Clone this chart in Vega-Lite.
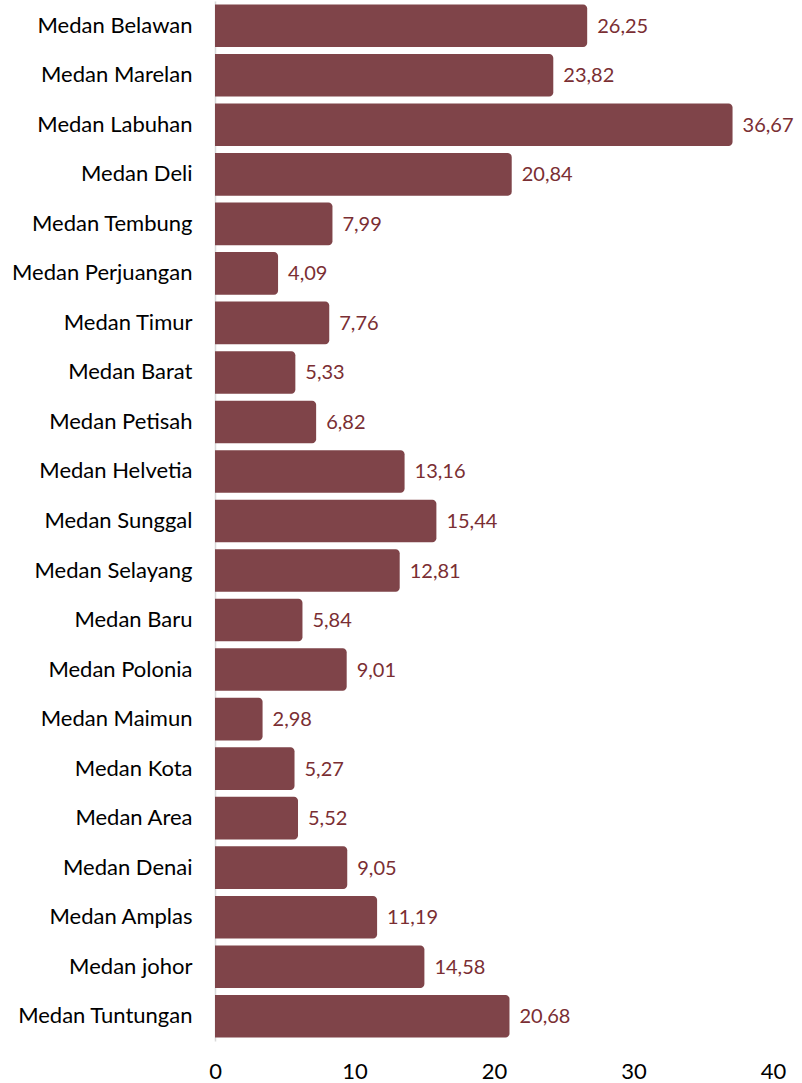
{
  "$schema": "https://vega.github.io/schema/vega-lite/v6.json",
  "autosize": "none",
  "width": 558,
  "height": 1040,
  "padding": {"left": 215, "top": 1, "right": 29, "bottom": 42},
  "background": "white",
  "config": {
    "view": {"stroke": null},
    "font": "Lato",
    "locale": {"number": {"decimal": ",", "thousands": ".", "grouping": [3], "currency": ["Rp", ""]}}
  },
  "data": {
    "values": [
      {"kecamatan": "Medan Belawan", "nilai": 26.25},
      {"kecamatan": "Medan Marelan", "nilai": 23.82},
      {"kecamatan": "Medan Labuhan", "nilai": 36.67},
      {"kecamatan": "Medan Deli", "nilai": 20.84},
      {"kecamatan": "Medan Tembung", "nilai": 7.99},
      {"kecamatan": "Medan Perjuangan", "nilai": 4.09},
      {"kecamatan": "Medan Timur", "nilai": 7.76},
      {"kecamatan": "Medan Barat", "nilai": 5.33},
      {"kecamatan": "Medan Petisah", "nilai": 6.82},
      {"kecamatan": "Medan Helvetia", "nilai": 13.16},
      {"kecamatan": "Medan Sunggal", "nilai": 15.44},
      {"kecamatan": "Medan Selayang", "nilai": 12.81},
      {"kecamatan": "Medan Baru", "nilai": 5.84},
      {"kecamatan": "Medan Polonia", "nilai": 9.01},
      {"kecamatan": "Medan Maimun", "nilai": 2.98},
      {"kecamatan": "Medan Kota", "nilai": 5.27},
      {"kecamatan": "Medan Area", "nilai": 5.52},
      {"kecamatan": "Medan Denai", "nilai": 9.05},
      {"kecamatan": "Medan Amplas", "nilai": 11.19},
      {"kecamatan": "Medan johor", "nilai": 14.58},
      {"kecamatan": "Medan Tuntungan", "nilai": 20.68}
    ]
  },
  "encoding": {
    "y": {
      "field": "kecamatan",
      "type": "nominal",
      "sort": null,
      "scale": {"paddingInner": 0.14, "paddingOuter": 0.07},
      "axis": {
        "title": null,
        "ticks": false,
        "domainColor": "#d9d9d9",
        "domainWidth": 1.5,
        "labelFontSize": 22,
        "labelColor": "#000000",
        "labelPadding": 23,
        "labelLimit": 300
      }
    },
    "x": {
      "field": "nilai",
      "type": "quantitative",
      "scale": {"domain": [0, 40], "nice": false},
      "axis": {
        "title": null,
        "values": [0, 10, 20, 30, 40],
        "format": "d",
        "grid": false,
        "domain": false,
        "ticks": false,
        "labelFontSize": 22,
        "labelColor": "#000000",
        "labelPadding": 20,
        "labelFlush": false
      }
    }
  },
  "layer": [
    {
      "mark": {"type": "bar", "color": "#7f4449", "cornerRadiusTopRight": 4, "cornerRadiusBottomRight": 4, "xOffset": 6, "x2Offset": 0},
      "encoding": {"x2": {"datum": 0}}
    },
    {
      "mark": {"type": "text", "align": "left", "baseline": "middle", "dx": 16, "dy": 1, "fontSize": 20, "color": "#7a2e33"},
      "encoding": {
        "text": {"field": "nilai", "type": "quantitative", "format": ".2f"}
      }
    }
  ]
}
